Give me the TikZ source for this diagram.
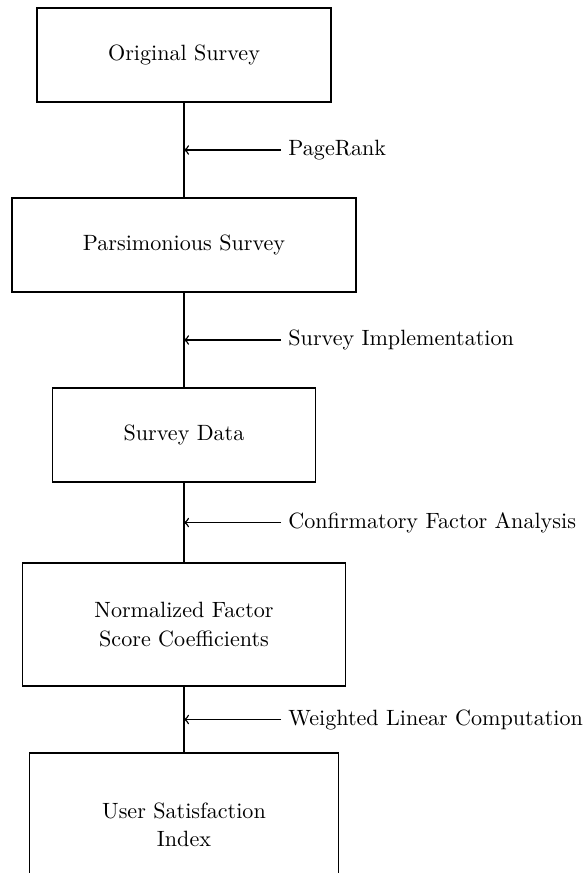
\documentclass[tikz,border=0pt]{standalone}
\usetikzlibrary{calc}
\begin{document}
\begin{tikzpicture}[x=0.475pt,y=-0.475pt,
  every node/.style={font=\fontsize{10.5}{13.6}\selectfont},
  box/.style={draw, line width=0.7pt, align=center, inner sep=0pt},
  lab/.style={anchor=west},
  link/.style={line width=0.7pt},
  feed/.style={line width=0.7pt, ->}]
\useasboundingbox (0,0) rectangle (585,873);
\node[box, minimum width=139.7pt, minimum height=44.7pt] (b1) at (184,55) {Original Survey};
\node[box, minimum width=163.4pt, minimum height=44.7pt] (b2) at (184,245) {Parsimonious Survey};
\node[box, minimum width=124.9pt, minimum height=44.7pt] (b3) at (184,435) {Survey Data};
\node[box, minimum width=153.4pt, minimum height=58.4pt] (b4) at (184,624.5) {Normalized Factor\\Score Coefficients};
\node[box, minimum width=146.8pt, minimum height=68.4pt] (b5) at (184,825) {User Satisfaction\\Index};
\draw[link] (b1.south) -- (b2.north);
\draw[link] (b2.south) -- (b3.north);
\draw[link] (b3.south) -- (b4.north);
\draw[link] (b4.south) -- (b5.north);
\coordinate (m1) at ($(b1.south)!0.5!(b2.north)$);
\coordinate (m2) at ($(b2.south)!0.5!(b3.north)$);
\coordinate (m3) at ($(b3.south)!0.5!(b4.north)$);
\coordinate (m4) at ($(b4.south)!0.5!(b5.north)$);
\node[lab] (l1) at (281,0 |- m1) {PageRank};
\node[lab] (l2) at (281,0 |- m2) {Survey Implementation};
\node[lab] (l3) at (281,0 |- m3) {Confirmatory Factor Analysis};
\node[lab] (l4) at (281,0 |- m4) {Weighted Linear Computation};
\draw[feed] (l1.west) -- (m1);
\draw[feed] (l2.west) -- (m2);
\draw[feed] (l3.west) -- (m3);
\draw[feed] (l4.west) -- (m4);
\end{tikzpicture}
\end{document}
